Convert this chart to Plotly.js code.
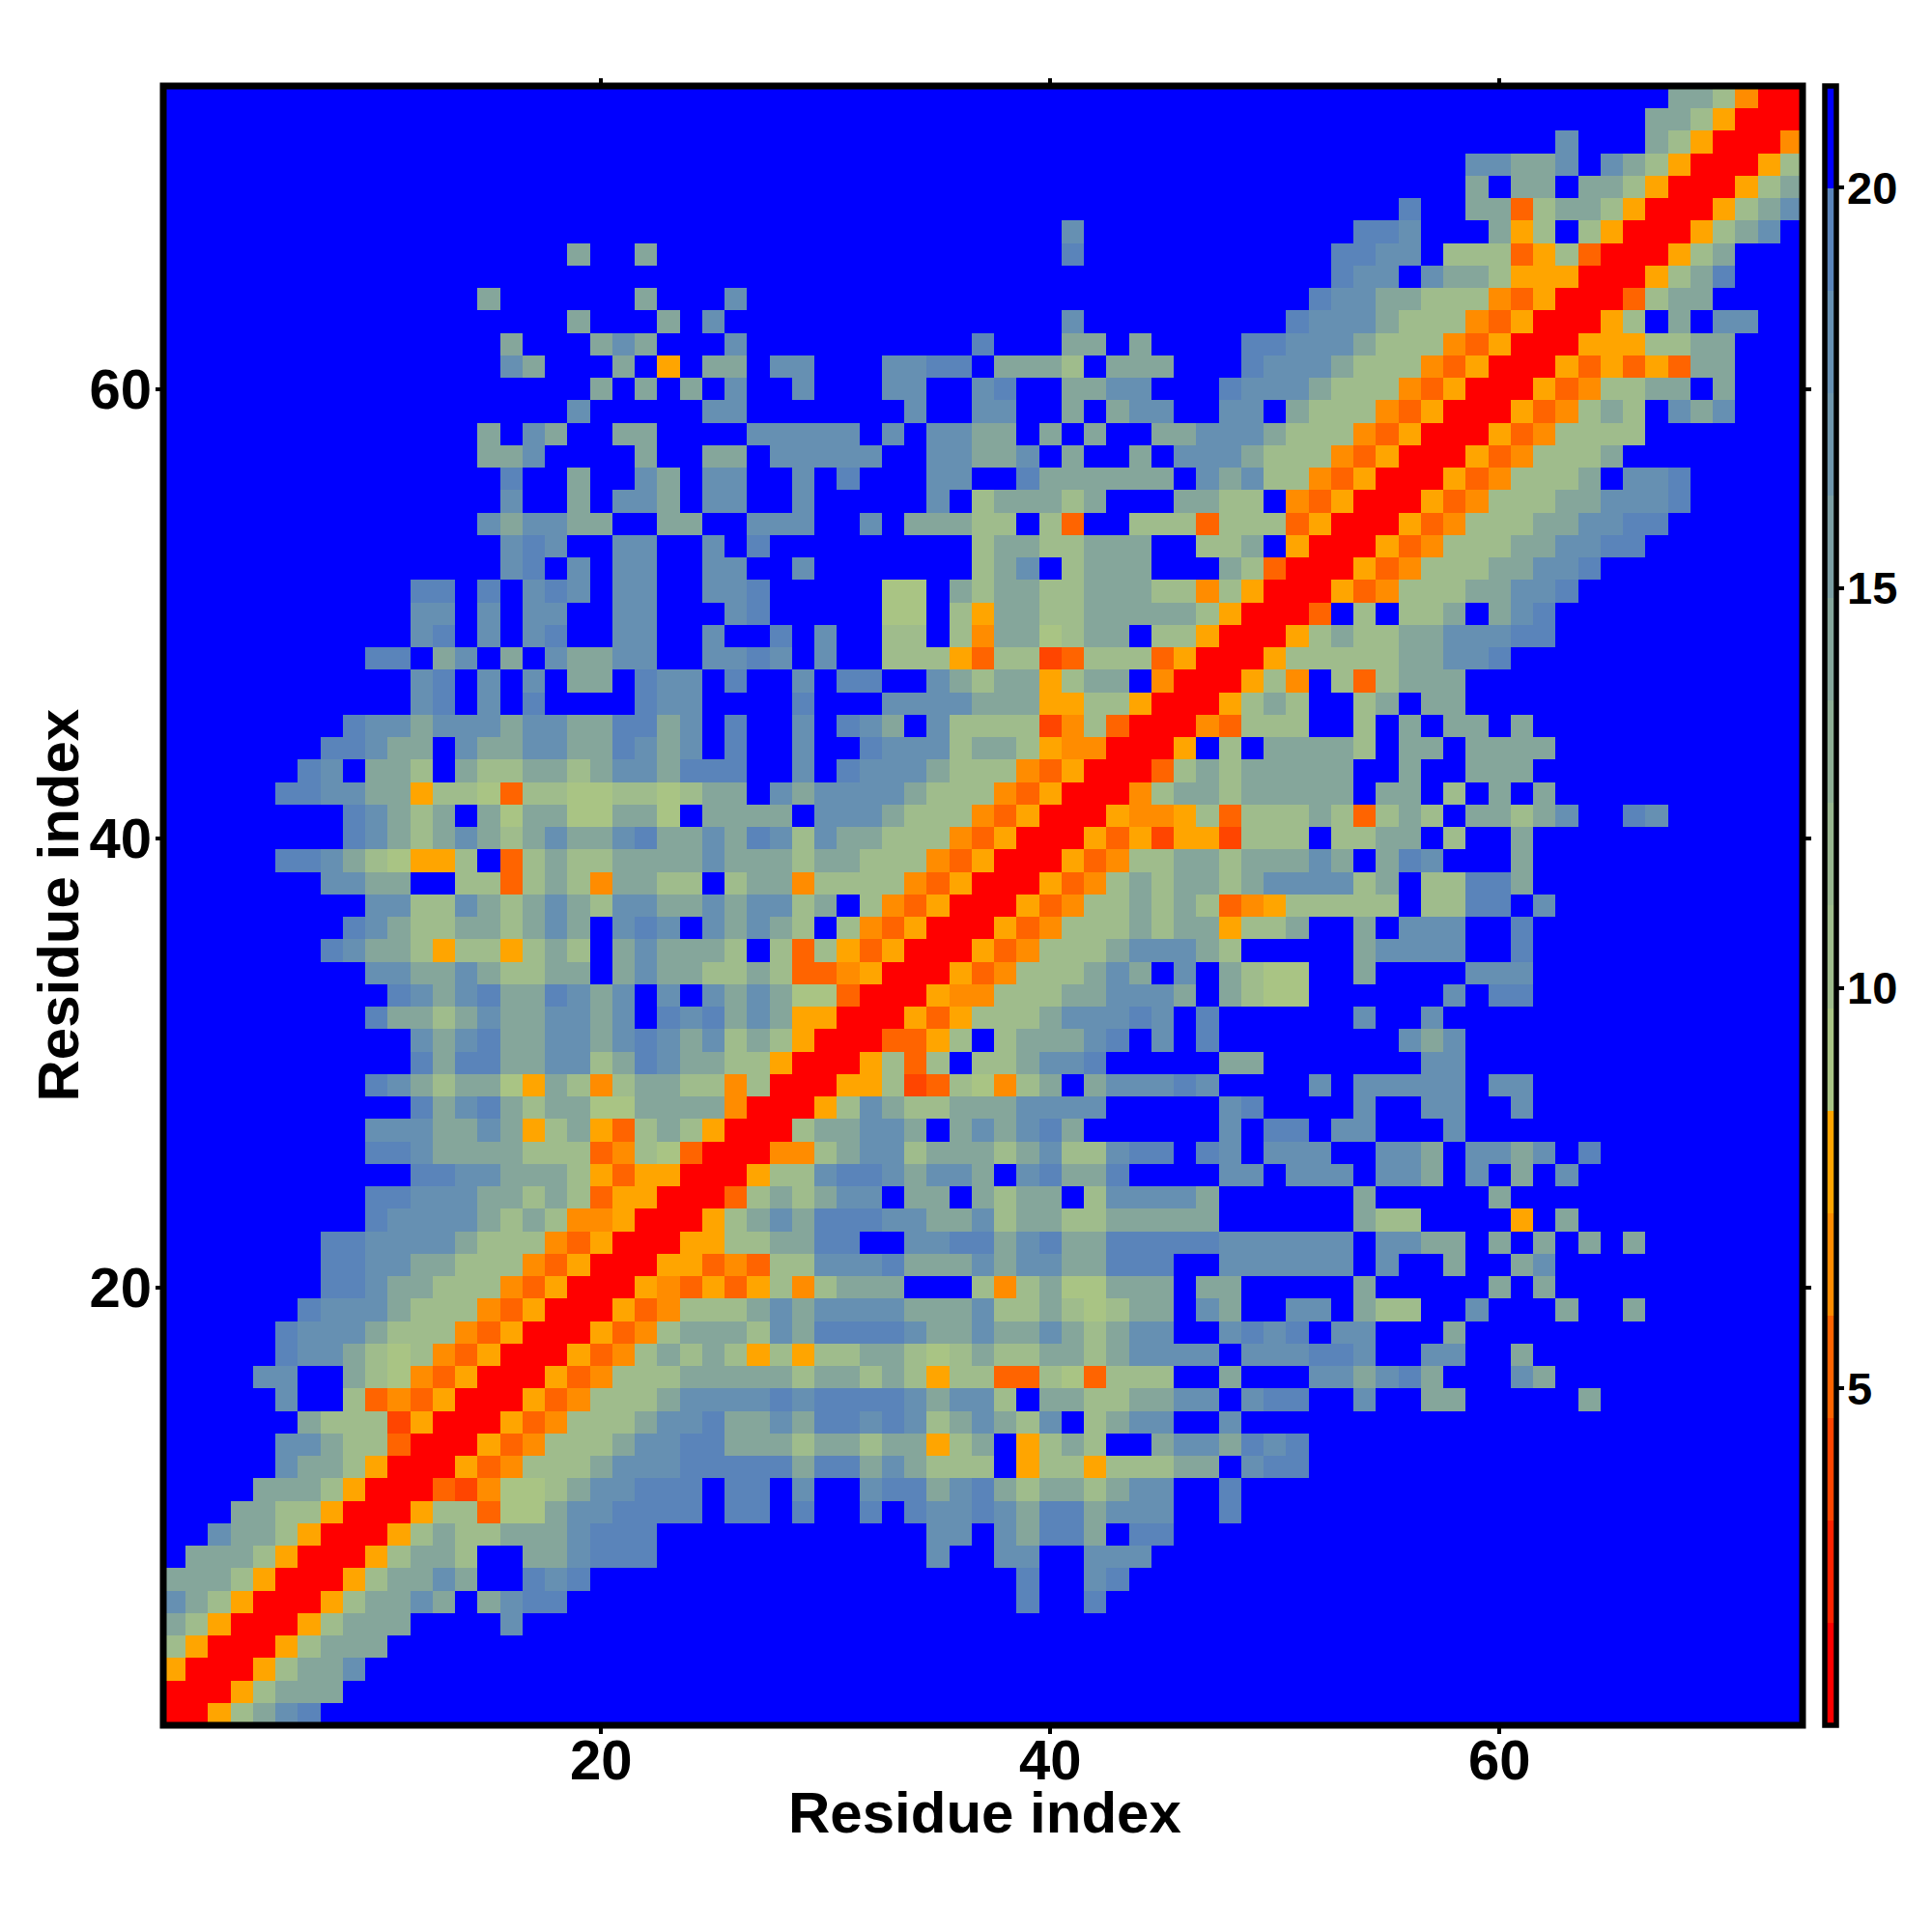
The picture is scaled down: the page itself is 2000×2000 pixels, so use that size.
<!DOCTYPE html>
<html><head><meta charset="utf-8">
<script src="https://cdn.plot.ly/plotly-3.0.1.min.js"></script>
<style>html,body{margin:0;padding:0;background:#fff}</style></head>
<body><div id="chart" style="width:2000px;height:2000px"></div>
<script>
// Each cell level; rows run from residue 73 (top) down to 1.
// Entry format: "startColumn:levels" where "." is beyond cutoff.
const residueRows = [
"68:ccdMRR",
"67:ccdORRR",
"63:b 67:cdORRRM",
"59:bbccb.bcdORRROd",
"59:c.cc.ccdORRROdc",
"56:a 59:ccNdccdORRROdcb",
"41:b 54:aab 60:cOd.dORRROdcb",
"19:c 22:c 41:a 53:aabb 58:dddNOdNRRROdc",
"53:abb.bccdOOORRROdca",
"15:c 22:c 26:b 52:abbccdddMNORRRNdcc",
"19:c 23:c 25:b 41:b 51:abbbcdddMNORRROd.c.bb",
"16:c 20:cbc 26:b 37:a 41:cc.c 49:aabbbcdddMNORRROOOddcc",
"16:bc 21:c.O.cc.bb 33:bbaa.cccd.ccc 49:abbbcdddMNORRRONONONcc",
"20:c.c.c.b 29:b 33:bb 37:ba 41:ccbb 48:abbbcdddMNORRRONMddcc.c",
"19:b 25:bb 34:b 37:bb 41:c.cbb 48:bb.cdddMNORRRONMdcd.bcb",
"15:c.bc 21:cc 27:bbbbb.b.bbcc.c.c..ccbbbcdddMNORRRONMdddd",
"15:ccb 22:c 25:cc 28:bbbbb 35:bbccb.c..c.bbbcdddMNORRRONMdddc",
"16:a 19:c 22:bc 25:bb 29:b 31:a 35:bb..acccccc.bcbddMNORRRONMdddc.bba",
"16:b 19:c 21:bbc 25:bb 29:b 35:b.dcccdc...ccdd.MNORRRONMdddccbbba",
"15:bcbbcc..cc..bbb 32:b 34:cccdd.dN..dddNdddNORRRONMdddccbbaa",
"16:bab..bb..b.a 37:dccddccc..ddc.ORRRONMdddccbbaa",
"16:ba.b.bb 25:bb 29:b 37:dcb.dccc...cdNRRRONMdddccbba",
"12:aa.a.bab.bb 25:bba 33:ee.cdccddcccddMdORRRONMdddccbba",
"12:bb.b.bb..bb 26:ba 33:ee.dOccddcccccdORRRN.d.ddc.cba",
"12:ba.b.ba..bb..b..a.b 33:dd.dMccedcc.ddORRROdcddccbbbaa",
"10:aa.cb.c.bccbb..bbab.b..dddONddPNdddNORRROdddddccbba",
"12:ba.b.b.cc.abb.a..b.aa..bcdccOdcc.MRRROdM.dNdccc",
"12:ba.b.a....abb 29:a 33:bbbbcccOOddORRROdcd..dc.cc",
"9:abbcbbbcbbccaacb.a..b.abc.bddddPMdNRRRMNddd..d.c.cc.c",
"8:aabcc.bccbbccabcb.a..b..abbbdccdOMMRRRO.d.ccccd.cc.cccc",
"7:ab.ccd.cddccdcbbcaaa..b.abbbcdddMNORRRNdcdccccc..c..ccc",
"6:aabbccOddeNddeeddedcc.bcbbbbcdddMNORRRMdccdccccc.cc.d.c.c",
"9:abcdc.cecceecce.cccc.bbbcdddMNORRROMMOdNdddcdNdcd.ccdcb..ab",
"9:abcdcbcdcbccbaccbcabdbccdddMNORRRONOPOOPddd.ddcc.d..c",
"6:aabcdeOOd.NdcddccccbcccdccdddMNORRRONMddccdcccbc.cab...c",
"8:bbcc..ddNdcdMccdd.dccMddddMNORRRONMdcdccdcbbbbdc.ddaac",
"10:bbddbcdcbcdbbccbcbbdc.dMNORRRONMddcdcdNMOddddd.ddaa.b",
"9:abcddccdcbc.bab.bcbcd.dMNORRRONMdddcdccOddc..c.bbb..a",
"8:abccdOddOdcd.cbcccd.dNdONORRRONMdddcbbbcd 54:cbbbb..a",
"10:bbccbcddcc.cbccddcdNNMORRRONMdddcbc.b.cdee 54:c 59:bbb",
"11:abcbaccabcb.b.bcbceeNRRROMMdddccbbbc.cdee 58:b 60:aa",
"10:accdcbccbbcb.abacbcOORRRONOdddcbbbab.a 54:b 57:b",
"12:bcbaccbbcbabcbdcdORRRNNOd.dcccba.b.a 56:bcb",
"12:acaaccbbdcabccddORRROdNd.ddcbba 48:cc 57:bb",
"10:abcdcceOcdMdccddMdRRROOdPNdeMdc.cbbbab 52:b 54:bbbbb 60:bb",
"12:acbacdcceeccccMRRROdbcddcccbbbb 48:ba 54:b 57:bb 61:b",
"10:bbbccbcOdcONdcdORRRdccbbc.cbcbac 48:b 50:aa 53:bb 58:b",
"10:aabccccdddNMdeNRRRMMdcbbdcccdcbddbaa.ab.bbb..bbc.bbcb.a",
"12:aabbcccdONOORRROddbaabcbbc.bacca....bb.bbb.bbc.b.c.b",
"10:aabbbccdcdNOORRRNdcdcbb.cc.cdcc.dbbbbc 54:c 60:c",
"10:abbbbcdcdMMORRROdcbcaaabbccbdccddccccc 54:cdd 61:O.c",
"8:aabbbbcdddMNORRROOddccaa..bbaacbaccaaaaabbbbbb.bbcc.c.c.c.c",
"8:aabbccdddMNORRROONMNddbbbacccbcbbccaaa..bbbbbb.b..c..cb",
"8:aabccdddMNORRROMNONOdMdccc...dMdceeccc.cc 54:c 60:c.c",
"7:abbbcdddMNORRRONMdddcbcbbbbcccbddcdedcc.bc..bb.cdd..b 63:c 66:c",
"6:abbbcdddMNORRRONMdcccdbcaaaabccbccbcdcbb..baba.bb...c",
"6:abbcdedMNORRRONMdcdcdOdOddccdedcddccdcbbbb.bbbaab..bb..c",
"5:bb..cdeMNORRRONMdddcccccdccdcdOddNNdeNddd..c...bbcbac 61:bc",
"6:b..dNMNORRRONMdddcbbbbabaaaabcbbd.ccddccbb.baa 54:b 57:cc 64:c",
"7:cdddPORRRONMdddcbbaccbcaababdcbcdb.dcbb..b",
"6:bbcddNRRRONMdddcbbaacccdccdccOdc.Odcd..cbbcaba",
"6:bccdORRRONMdddcbbbaaaaacaacbcddd.OddOdddcc.baa",
"5:cccdORRRNPMeedcbbaaa.aa.b..baacbacdccdcbb..a",
"4:ccddORRROddNeecbbaaaa.aa.a..a.abbabcaacbbb..a",
"3:bccdORRROdcddcccbaaa 35:bb.bcaac.aa",
"2:cccdORRROdccd..ccbaaa 35:b 38:bb..bbb",
"1:cccdORRROdccbc..aba 39:a 42:ba",
"1:bcdORRROdccbc.cbaa 39:a 42:a",
"1:cdORRROdccc 16:b",
"1:dORRROdccc",
"1:ORRROdccb",
"1:RRROdccc",
"1:RROdcba"
];
const levelChars = ["R","r","P","N","M","O","e","d","f","g","c","h","i","b","a","."];
const levelValues = [1.43,2.71,3.99,5.27,6.55,7.83,9.1,10.38,11.66,12.94,14.22,15.5,16.78,18.06,19.34,20.62];
const levelColors = ["#ff0000","#ff2200","#ff4500","#ff6400","#ff8c00","#ffa500","#a9c484","#9fbc8c","#98b68f","#8eae95","#85a69b","#7b9ea3","#6f96ac","#6690b2","#5a84ba","#0000ff"];
const residues = Array.from({length:73},(_,i)=>i+1);
const zMin = 0.79, zMax = 21.27;
const cbTicks = [5,10,15,20];
const axisTitle = "Residue index";

const z = residues.map(()=>residues.map(()=>levelValues[15]));
residueRows.forEach((row,i)=>{
  const y = 72-i;
  row.split(" ").forEach(seg=>{
    const [start,chars] = seg.split(":");
    [...chars].forEach((ch,k)=>{
      const col = +start-1+k;
      if(col<73) z[y][col] = levelValues[levelChars.indexOf(ch)];
    });
  });
});
const colorscale = [];
levelColors.forEach((c,i)=>{
  colorscale.push([i/16,c]);
  colorscale.push([(i+1)/16,c]);
});
colorscale[30][0] = 15/16; colorscale[31][0]=1;

const fontFam = "Liberation Sans, Arial, sans-serif";
const axisBase = {
  range:[0.5,73.5], tickmode:"array", tickvals:[20,40,60], ticktext:["20","40","60"],
  ticks:"outside", ticklen:7.5, tickwidth:4, tickcolor:"#000", mirror:"ticks",
  showgrid:false, zeroline:false, showline:false,
  tickfont:{family:fontFam,size:58,color:"#000",weight:"bold"}
};
const titleFont = {family:fontFam,size:60,color:"#000",weight:"bold"};
const data = [{
  type:"heatmap", x:residues, y:residues, z:z, zmin:zMin, zmax:zMax, colorscale:colorscale,
  zsmooth:false,
  colorbar:{
    x:1.0138, xref:"paper", xanchor:"left", xpad:0, y:0.5, yanchor:"middle", ypad:0, len:1, lenmode:"fraction",
    thickness:12, thicknessmode:"pixels",
    outlinewidth:5.5, outlinecolor:"#000", borderwidth:0,
    tickmode:"array", tickvals:cbTicks, ticktext:cbTicks.map(String),
    ticks:"outside", ticklen:6, tickwidth:4, tickcolor:"#000", showticklabels:false
  }
}];
const cbLabels = cbTicks.map(v=>({
  xref:"paper",yref:"paper",x:1.0257,y:(v-zMin)/(zMax-zMin),xanchor:"left",yanchor:"middle",showarrow:false,
  text:String(v),font:{family:fontFam,size:47,color:"#000",weight:"bold"}
}));
const titleLabels = [
  {xref:"paper",yref:"paper",x:0.5009,y:-0.0535,xanchor:"center",yanchor:"middle",showarrow:false,text:axisTitle,font:titleFont},
  {xref:"paper",yref:"paper",x:-0.0642,y:0.5,xanchor:"center",yanchor:"middle",showarrow:false,textangle:-90,text:axisTitle,font:titleFont}
];
const layout = {
  width:2000, height:2000, margin:{l:169,r:134,t:89,b:214,pad:0},
  paper_bgcolor:"#fff", plot_bgcolor:"#00f", showlegend:false,
  xaxis:Object.assign({},axisBase,{ticklabelstandoff:-22}),
  yaxis:Object.assign({},axisBase,{ticklabelstandoff:-8}),
  shapes:[{type:"rect",xref:"paper",yref:"paper",x0:0,x1:1,y0:0,y1:1,line:{color:"#000",width:7},fillcolor:"rgba(0,0,0,0)",layer:"above"}],
  annotations:cbLabels.concat(titleLabels)
};
Plotly.newPlot("chart",data,layout,{displayModeBar:false,responsive:false});
</script></body></html>
